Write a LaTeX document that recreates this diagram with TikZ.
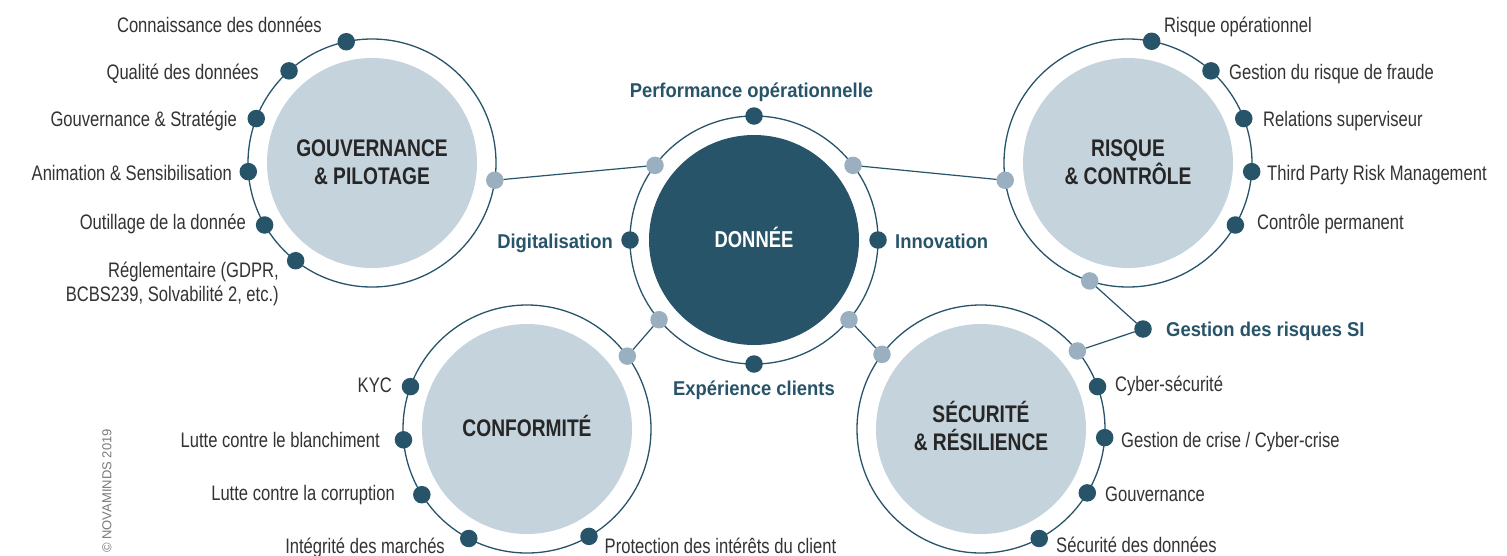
\documentclass[tikz,border=0pt]{standalone}
\usepackage{fontspec}
\setmainfont{Liberation Sans}
\newfontfamily\lblfont{Liberation Sans}[FakeStretch=0.79]
\newfontfamily\blfont{Liberation Sans}[FakeStretch=0.92]
\newfontfamily\ttlfont{Liberation Sans}[FakeStretch=0.8]
\definecolor{dk}{HTML}{28546A}
\definecolor{lt}{HTML}{C5D3DC}
\definecolor{md}{HTML}{9AAFBF}
\definecolor{tx}{HTML}{333333}
\definecolor{tt}{HTML}{262626}
\definecolor{cp}{HTML}{7A7A7A}
\begin{document}
\begin{tikzpicture}[x=1pt,y=-1pt,
  ring/.style={circle,draw=dk,line width=1.3pt,minimum size=248pt,inner sep=0pt,outer sep=0pt},
  core/.style={circle,fill=lt,minimum size=210pt,inner sep=0pt},
  dcore/.style={circle,fill=dk,minimum size=210pt,inner sep=0pt},
  dd/.style={circle,fill=dk,minimum size=17.5pt,inner sep=0pt,outer sep=0pt},
  ld/.style={circle,fill=md,minimum size=17.5pt,inner sep=0pt,outer sep=0pt},
  conn/.style={draw=dk,line width=1.2pt},
  lbl/.style={font=\lblfont\fontsize{21}{25}\selectfont,text=tx,inner sep=0pt},
  blbl/.style={font=\blfont\bfseries\fontsize{20}{24}\selectfont,text=dk,inner sep=0pt},
  ttl/.style={font=\ttlfont\bfseries\fontsize{24}{28.3}\selectfont,text=tt,inner sep=0pt,align=center},
]
\fill[white] (0,0) rectangle (1507,555);
\useasboundingbox (0,0) rectangle (1507,555);

% ---- rings and cores
\node[core] (Gc) at (372,163) {};
\node[ring] (G) at (372,163) {};
\node[dcore] (Dc) at (754,240) {};
\node[ring] (D) at (754,240) {};
\node[core] (Rc) at (1128,163) {};
\node[ring] (R) at (1128,163) {};
\node[core] (Cc) at (527,429) {};
\node[ring] (C) at (527,429) {};
\node[core] (Sc) at (981,429) {};
\node[ring] (S) at (981,429) {};

% ---- titles
\node[ttl] (tG) at (372,162.2) {GOUVERNANCE\\\& PILOTAGE};
\node[ttl] (tR) at (1128,162.2) {RISQUE\\\& CONTRÔLE};
\node[ttl,anchor=base] (tC) at (527,436.7) {CONFORMITÉ};
\node[ttl] (tS) at (981,426) {SÉCURITÉ\\\& RÉSILIENCE};
\node[font=\ttlfont\bfseries\fontsize{23}{27}\selectfont,text=white,inner sep=0pt,anchor=base] (tD) at (754,247.3) {DONNÉE};

% ---- dots: gouvernance
\node[dd] (g1) at (G.102) {};
\node[dd] (g2) at (G.132) {};
\node[dd] (g3) at (G.159) {};
\node[dd] (g4) at (G.184) {};
\node[dd] (g5) at (G.210) {};
\node[dd] (g6) at (G.232) {};
\node[ld] (gL) at (G.-8) {};
% ---- dots: donnee
\node[dd] (d1) at (D.90) {};
\node[dd] (d2) at (D.180) {};
\node[dd] (d3) at (D.0) {};
\node[dd] (d4) at (D.270) {};
\node[ld] (dUL) at (D.143) {};
\node[ld] (dUR) at (D.37) {};
\node[ld] (dLL) at (D.220) {};
\node[ld] (dLR) at (D.320) {};
% ---- dots: risque
\node[dd] (r1) at (R.79) {};
\node[dd] (r2) at (R.48) {};
\node[dd] (r3) at (R.21) {};
\node[dd] (r4) at (R.-4) {};
\node[dd] (r5) at (R.-30) {};
\node[ld] (rL) at (R.188) {};
\node[ld] (rB) at (R.252) {};
% ---- dots: conformite
\node[dd] (c1) at (C.160) {};
\node[dd] (c2) at (C.185) {};
\node[dd] (c3) at (C.212) {};
\node[dd] (c4) at (C.242) {};
\node[dd] (c5) at (C.300) {};
\node[ld] (cL) at (C.36) {};
% ---- dots: securite
\node[dd] (s1) at (S.20) {};
\node[dd] (s2) at (S.-4) {};
\node[dd] (s3) at (S.-31) {};
\node[dd] (s4) at (S.-62) {};
\node[ld] (sR) at (S.39) {};
\node[ld] (sL) at (S.143) {};
% ---- SI dot
\node[dd] (si) at (1143,329) {};

% ---- connectors
\draw[conn] (gL) -- (dUL);
\draw[conn] (dUR) -- (rL);
\draw[conn] (dLL) -- (cL);
\draw[conn] (dLR) -- (sL);
\draw[conn] (rB) -- (si);
\draw[conn] (si) -- (sR);

% ---- labels gouvernance
\node[lbl,anchor=base east] (lg1) at (322,32.3) {Connaissance des données};
\node[lbl,anchor=base east] (lg2) at (259,79) {Qualité des données};
\node[lbl,anchor=base east] (lg3) at (237,126.7) {Gouvernance \& Stratégie};
\node[lbl,anchor=base east] (lg4) at (232,180) {Animation \& Sensibilisation};
\node[lbl,anchor=base east] (lg5) at (246,229) {Outillage de la donnée};
\node[lbl,anchor=base east] (lg6) at (279,277.7) {Réglementaire (GDPR,};
\node[lbl,anchor=base east] (lg7) at (279,301.7) {BCBS239, Solvabilité 2, etc.)};
% ---- labels risque
\node[lbl,anchor=base west] (lr1) at (1164,32.3) {Risque opérationnel};
\node[lbl,anchor=base west] (lr2) at (1229,79) {Gestion du risque de fraude};
\node[lbl,anchor=base west] (lr3) at (1263,126.7) {Relations superviseur};
\node[lbl,anchor=base west] (lr4) at (1267,180) {Third Party Risk Management};
\node[lbl,anchor=base west] (lr5) at (1257,229.3) {Contrôle permanent};
% ---- labels donnee
\node[blbl,anchor=base] (ld1) at (751.5,97.3) {Performance opérationnelle};
\node[blbl,anchor=base east] (ld2) at (613,248.3) {Digitalisation};
\node[blbl,anchor=base west] (ld3) at (895,248.3) {Innovation};
\node[blbl,anchor=base] (ld4) at (754,395) {Expérience clients};
\node[blbl,anchor=base west] (lsi) at (1166,336.7) {Gestion des risques SI};
% ---- labels conformite
\node[lbl,anchor=base east] (lc1) at (392,392.7) {KYC};
\node[lbl,anchor=base east] (lc2) at (380,447.7) {Lutte contre le blanchiment};
\node[lbl,anchor=base east] (lc3) at (395,500.7) {Lutte contre la corruption};
\node[lbl,anchor=base east] (lc4) at (445,553) {Intégrité des marchés};
\node[lbl,anchor=base west] (lc5) at (604.5,553) {Protection des intérêts du client};
% ---- labels securite
\node[lbl,anchor=base west] (ls1) at (1115,391.7) {Cyber-sécurité};
\node[lbl,anchor=base west] (ls2) at (1121,447.3) {Gestion de crise / Cyber-crise};
\node[lbl,anchor=base west] (ls3) at (1105,501.7) {Gouvernance};
\node[lbl,anchor=base west] (ls4) at (1056,552) {Sécurité des données};

% ---- copyright
\node[font=\fontsize{13}{15}\selectfont,text=cp,rotate=90,inner sep=0pt] (copy) at (107,491) {© NOVAMINDS 2019};
\end{tikzpicture}
\end{document}
